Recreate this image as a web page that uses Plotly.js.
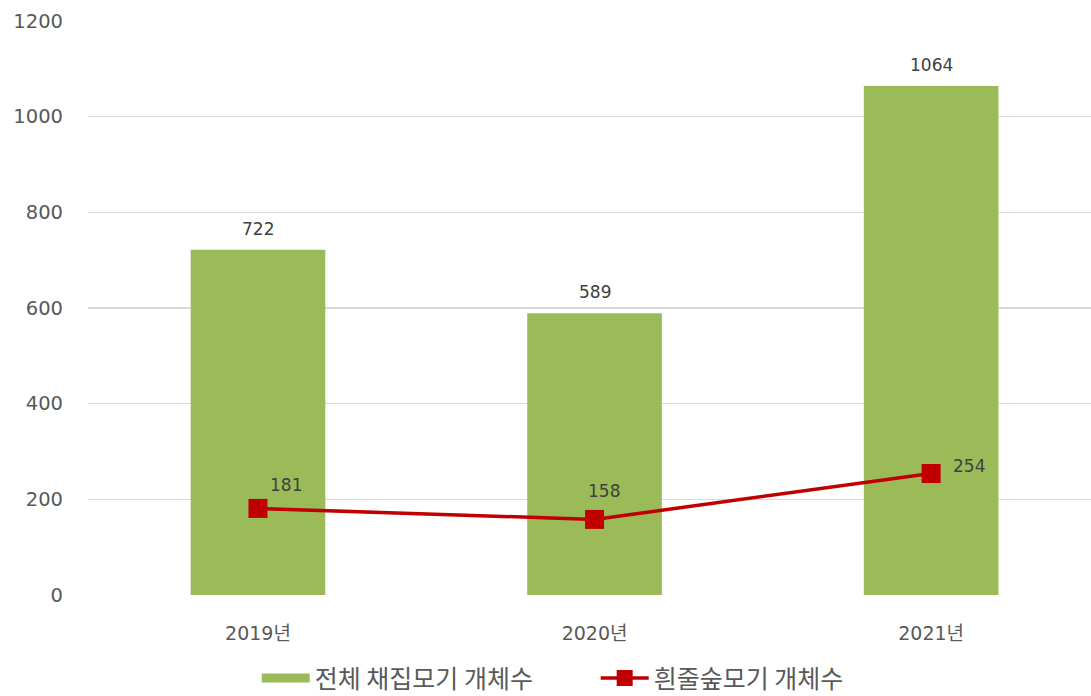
<!DOCTYPE html>
<html><head><meta charset="utf-8">
<script src="https://cdn.plot.ly/plotly-3.0.1.min.js"></script>
<style>html,body{margin:0;padding:0;background:#fff}#c{width:1091px;height:696px}</style>
</head><body><div id="c"></div>
<script>
const categories = ['2019년', '2020년', '2021년'];
const totalMosquitoes = [722, 589, 1064];
const albopictus = [181, 158, 254];
const seriesNames = ['전체 채집모기 개체수', '흰줄숲모기 개체수'];
const yTicks = [0, 200, 400, 600, 800, 1000, 1200];

// label placement (style only, pixels)
const lineLabelShift = [[28, 23], [9, 28], [38, 8]];

const FONT = '"DejaVu Sans", "Noto Sans CJK KR", sans-serif';
const KFONT = '"Noto Sans CJK KR", sans-serif';
const idx = categories.map((_, i) => i);
const GREEN = '#9bbb59', RED = '#c00000';

const traces = [
  {type: 'bar', x: idx, y: totalMosquitoes, name: seriesNames[0], width: 0.4,
   marker: {color: GREEN}, hoverinfo: 'none', showlegend: false},
  {type: 'scatter', mode: 'lines', x: [null], y: [null], name: seriesNames[0],
   line: {color: GREEN, width: 9}, hoverinfo: 'none', showlegend: true},
  {type: 'scatter', mode: 'lines+markers', x: idx, y: albopictus, name: seriesNames[1],
   line: {color: RED, width: 3.5}, marker: {symbol: 'square', size: 19, color: RED},
   cliponaxis: false, hoverinfo: 'none'}
];

const annotations = totalMosquitoes.map((v, i) => ({
  x: i, y: v, xref: 'x', yref: 'y', text: String(v), showarrow: false,
  yshift: 21, font: {family: FONT, size: 17, color: '#404040'}
})).concat(albopictus.map((v, i) => ({
  x: i, y: v, xref: 'x', yref: 'y', text: String(v), showarrow: false,
  xshift: lineLabelShift[i][0], yshift: lineLabelShift[i][1],
  font: {family: FONT, size: 17, color: '#404040'}
})));

const layout = {
  width: 1091, height: 696,
  margin: {l: 88, r: 0, t: 21, b: 101},
  paper_bgcolor: '#fff', plot_bgcolor: '#fff',
  font: {family: FONT, color: '#595959'},
  xaxis: {tickmode: 'array', tickvals: idx, ticktext: categories, range: [-0.505, 2.475],
          showgrid: false, zeroline: false, showline: false, ticks: '',
          tickfont: {size: 19, color: '#595959', family: FONT}, ticklabelstandoff: 25},
  yaxis: {range: [0, 1200], tickmode: 'array', tickvals: yTicks, showgrid: true,
          gridcolor: '#d9d9d9', gridwidth: 1.3, zeroline: false, showline: false, ticks: '',
          tickfont: {size: 19.5, color: '#595959', family: FONT}, ticklabelstandoff: 24},
  showlegend: true,
  legend: {orientation: 'h', xref: 'container', yref: 'container', x: 0.546, xanchor: 'center',
           y: 0.0255, yanchor: 'middle', traceorder: 'normal', itemwidth: 48, entrywidth: 276,
           font: {size: 25, color: '#595959', family: KFONT}},
  annotations: annotations
};

Plotly.newPlot('c', traces, layout, {displayModeBar: false, staticPlot: true});
</script></body></html>
